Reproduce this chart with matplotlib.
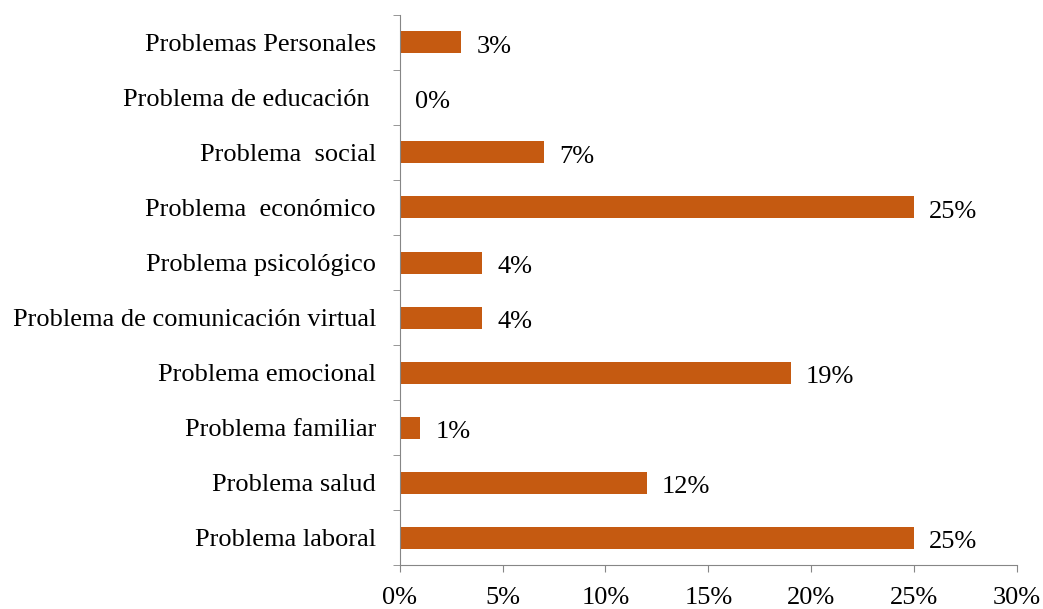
import matplotlib.pyplot as plt
import matplotlib.transforms as mtransforms
import numpy as np
from matplotlib.ticker import FixedLocator

plt.rcParams['font.family'] = ['Liberation Serif', 'DejaVu Serif']

categorias = ['Problema laboral', 'Problema salud', 'Problema familiar',
              'Problema emocional', 'Problema de comunicación virtual',
              'Problema psicológico', 'Problema  económico', 'Problema  social',
              'Problema de educación ', 'Problemas Personales']
valores = [25, 12, 1, 19, 4, 4, 25, 7, 0, 3]
xticks = [0, 5, 10, 15, 20, 25, 30]

color_barra = '#C55A11'
gris = '#868686'
fs = 19

fig = plt.figure(figsize=(10.43, 6.09), dpi=100)
ax = fig.add_axes([0.3832, 0.0722, 0.5918, 0.9032])

y = np.arange(len(categorias))
ax.barh(y, valores, height=0.4, color=color_barra)

for yi, v in zip(y, valores):
    ax.annotate(f'{v}%', (v, yi), xytext=(11, -3), textcoords='offset points',
                va='center', ha='left', fontsize=fs)

ax.set_xlim(0, 30)
ax.set_ylim(-0.5, len(categorias) - 0.5)
ax.set_xticks(xticks)
ax.set_xticklabels([f'{t}%' for t in xticks], fontsize=fs)
ax.set_yticks(y)
ax.set_yticklabels(categorias, fontsize=fs)
ax.yaxis.set_minor_locator(FixedLocator(np.arange(-0.5, len(categorias), 1)))

# bajar un poco las etiquetas de categoria
desplaza = mtransforms.ScaledTranslation(0, -2 / 72, fig.dpi_scale_trans)
for lab in ax.get_yticklabels():
    lab.set_transform(lab.get_transform() + desplaza)

ax.tick_params(axis='y', which='major', length=0, pad=17)
ax.tick_params(axis='y', which='minor', length=5, color=gris, direction='out')
ax.tick_params(axis='x', length=5, color=gris, pad=11)

for s in ['top', 'right']:
    ax.spines[s].set_visible(False)
for s in ['left', 'bottom']:
    ax.spines[s].set_color(gris)

fig.savefig('out.png', dpi=100)
